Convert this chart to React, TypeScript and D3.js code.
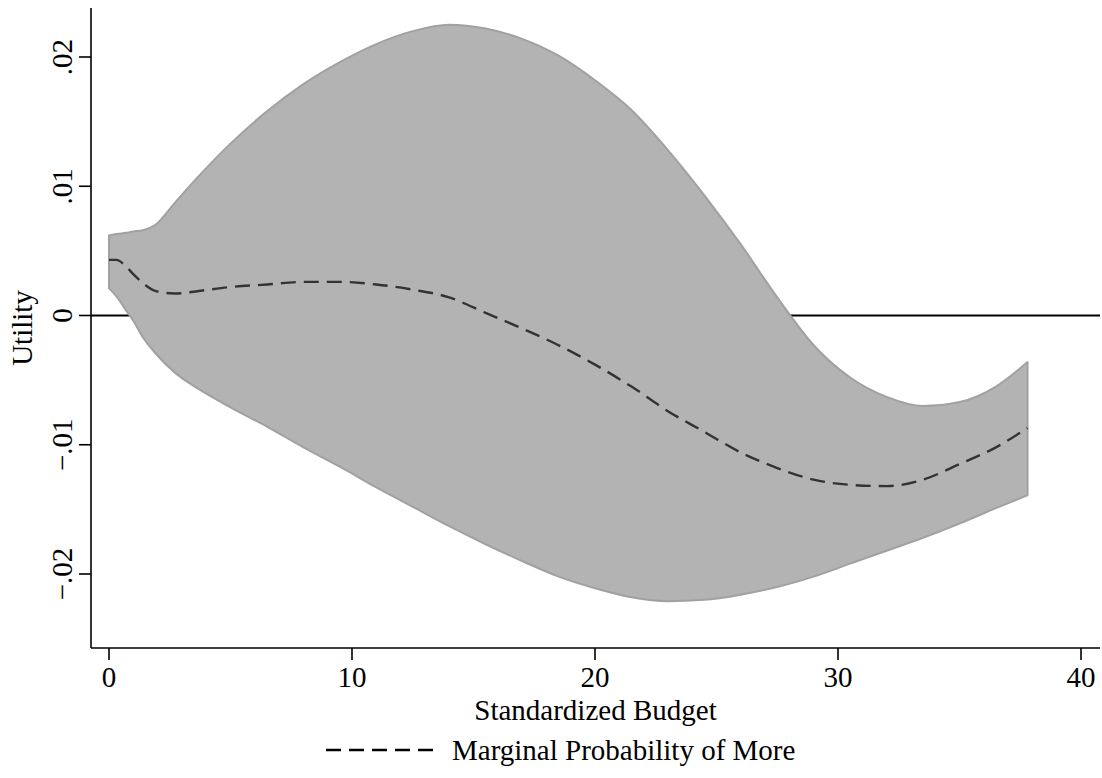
import * as d3 from 'd3';

// standardized budget grid
const budget = [0, 0.3, 0.7, 1.0, 1.4, 1.9, 2.7, 3.7, 5, 6.5, 8, 9.5, 11, 12.5, 14, 15.5, 17, 18.5, 20, 21.5, 23, 24.5, 26, 27.5, 29, 30.5, 32, 33.5, 35, 36.5, 37.8];
const upper = [0.0062, 0.0063, 0.0064, 0.0065, 0.0066, 0.0070, 0.0087, 0.0108, 0.0133, 0.0158, 0.0179, 0.0196, 0.0210, 0.0220, 0.0225, 0.0222, 0.0214, 0.0201, 0.0182, 0.0159, 0.0128, 0.0093, 0.0055, 0.0014, -0.0023, -0.0048, -0.0063, -0.0070, -0.0067, -0.0055, -0.0036];
const lower = [0.0021, 0.0015, 0.0004, -0.0004, -0.0017, -0.0029, -0.0044, -0.0057, -0.0071, -0.0086, -0.0102, -0.0117, -0.0133, -0.0148, -0.0163, -0.0177, -0.0190, -0.0202, -0.0211, -0.0218, -0.0221, -0.0220, -0.0216, -0.0210, -0.0202, -0.0192, -0.0182, -0.0172, -0.0161, -0.0149, -0.0139];
const marginal = [0.0043, 0.0043, 0.0038, 0.0032, 0.0025, 0.0019, 0.0017, 0.0019, 0.0022, 0.0024, 0.0026, 0.0026, 0.0024, 0.0020, 0.0014, 0.0002, -0.0010, -0.0023, -0.0038, -0.0055, -0.0074, -0.0090, -0.0106, -0.0118, -0.0127, -0.0131, -0.0132, -0.0127, -0.0115, -0.0102, -0.0087];

const xTicks = [0, 10, 20, 30, 40];
const yTicks = [0.02, 0.01, 0, -0.01, -0.02];
const yTickLabels = ['.02', '.01', '0', '\u2212.01', '\u2212.02'];

const W = 1102;
const H = 778;
const font = '"Liberation Serif", "DejaVu Serif", serif';
const fs = 29;

const App = () => {
  const x = d3.scaleLinear().domain([0, 40]).range([109, 1081]);
  const y = d3.scaleLinear().domain([-0.02, 0.02]).range([574, 57]);

  const axisLeft = 91;
  const axisRight = 1100;
  const axisBottom = 648;
  const axisTop = 8;

  const idx = d3.range(budget.length);
  const area = d3.area<number>()
    .x(i => x(budget[i]))
    .y0(i => y(lower[i]))
    .y1(i => y(upper[i]))
    .curve(d3.curveMonotoneX);
  const line = d3.line<number>()
    .x(i => x(budget[i]))
    .y(i => y(marginal[i]))
    .curve(d3.curveMonotoneX);

  return (
    <svg width={W} height={H} style={{ position: 'absolute', left: 0, top: 0, background: '#fff' }}>
      {/* zero reference line */}
      <line x1={axisLeft} x2={axisRight} y1={y(0)} y2={y(0)} stroke="#000" strokeWidth={2} />

      {/* confidence band */}
      <path d={area(idx) || ''} fill="#b3b3b3" stroke="#a1a1a1" strokeWidth={2} strokeLinejoin="round" />

      {/* marginal probability line */}
      <path d={line(idx) || ''} fill="none" stroke="#333" strokeWidth={2.4} strokeDasharray="15,8" />

      {/* axes */}
      <line x1={axisLeft} x2={axisLeft} y1={axisTop} y2={axisBottom} stroke="#000" strokeWidth={1.6} />
      <line x1={axisLeft} x2={axisRight} y1={axisBottom} y2={axisBottom} stroke="#000" strokeWidth={1.6} />

      {yTicks.map((t, i) => (
        <g key={t}>
          <line x1={axisLeft - 12} x2={axisLeft} y1={y(t)} y2={y(t)} stroke="#000" strokeWidth={1.6} />
          <text
            transform={`translate(72,${y(t)}) rotate(-90)`}
            textAnchor="middle"
            fontFamily={font}
            fontSize={fs}
          >
            {yTickLabels[i]}
          </text>
        </g>
      ))}

      {xTicks.map(t => (
        <g key={t}>
          <line x1={x(t)} x2={x(t)} y1={axisBottom} y2={axisBottom + 12} stroke="#000" strokeWidth={1.6} />
          <text x={x(t)} y={axisBottom + 39} textAnchor="middle" fontFamily={font} fontSize={fs}>
            {t}
          </text>
        </g>
      ))}

      <text x={(axisLeft + axisRight) / 2} y={axisBottom + 72} textAnchor="middle" fontFamily={font} fontSize={fs}>
        Standardized Budget
      </text>
      <text transform={`translate(32,${(axisTop + axisBottom) / 2}) rotate(-90)`} textAnchor="middle" fontFamily={font} fontSize={fs}>
        Utility
      </text>

      {/* legend */}
      <g transform="translate(0,760)">
        <line x1={326} x2={434} y1={-10} y2={-10} stroke="#000" strokeWidth={2.4} strokeDasharray="15,8" />
        <text x={452} y={0} fontFamily={font} fontSize={fs}>
          Marginal Probability of More
        </text>
      </g>
    </svg>
  );
};

export default App;
